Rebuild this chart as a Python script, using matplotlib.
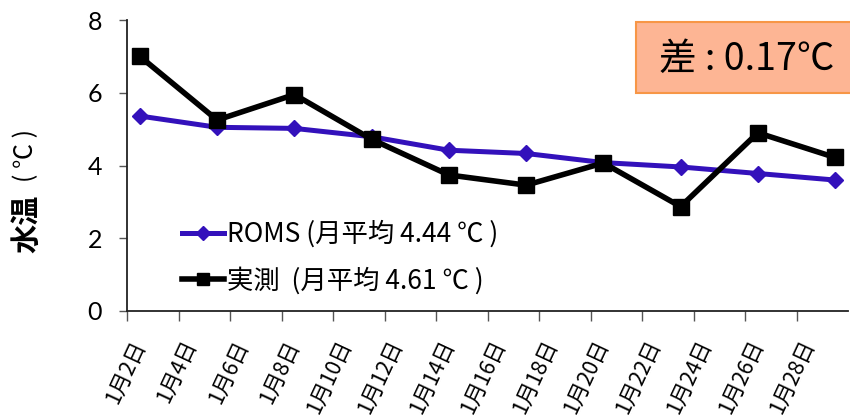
import matplotlib
matplotlib.use("Agg")
import matplotlib.pyplot as plt
from matplotlib.patches import Rectangle

plt.rcParams['font.family'] = ['Lato', 'Noto Sans CJK JP', 'DejaVu Sans']
JP = ['Noto Sans CJK JP', 'DejaVu Sans']

# Observation days in January and daily-mean water temperature (℃)
days = [2, 5, 8, 11, 14, 17, 20, 23, 26, 29]
roms_temp = [5.36, 5.05, 5.02, 4.79, 4.42, 4.33, 4.08, 3.96, 3.78, 3.60]
obs_temp = [7.00, 5.25, 5.95, 4.72, 3.74, 3.46, 4.07, 2.87, 4.90, 4.22]

label_days = [2, 4, 6, 8, 10, 12, 14, 16, 18, 20, 22, 24, 26, 28]
tick_labels = [f"1月{d}日" for d in label_days]
y_ticks = [0, 2, 4, 6, 8]

roms_label = "ROMS (月平均 4.44 ℃ )"
obs_label = "実測  (月平均 4.61 ℃ )"
diff_text = "差 : 0.17℃"

fig = plt.figure(figsize=(8.5, 4.16), dpi=100)
ax = fig.add_axes([127 / 850, 1 - 311 / 416, 721 / 850, 291 / 416])

ax.plot(days, roms_temp, color='#3311BB', lw=3.6, marker='D', ms=8.5,
        mec='#3311BB', mfc='#3311BB', label=roms_label, zorder=3)
ax.plot(days, obs_temp, color='black', lw=4.0, marker='s', ms=11,
        mec='black', mfc='black', label=obs_label, zorder=4)

# Each day occupies one slot; tick marks on slot boundaries every two days
ax.set_xlim(1.5, 29.5)
ax.set_ylim(0, 8)
ax.set_xticks([d - 0.5 for d in label_days])
ax.set_xticklabels([])
ax.tick_params(axis='x', which='major', direction='out', length=7, width=1.0,
               color='#555555')
ax.set_xticks(label_days, minor=True)
ax.set_xticklabels(tick_labels, minor=True, rotation=65, ha='right',
                   va='center', rotation_mode='anchor', fontsize=15.5,
                   family=JP)
ax.tick_params(axis='x', which='minor', length=0, pad=22)

ax.set_yticks(y_ticks)
ax.set_yticklabels([str(v) for v in y_ticks], fontsize=18)
ax.tick_params(axis='y', direction='out', length=6, width=1.0, color='#555555',
               pad=12)

for side in ('top', 'right'):
    ax.spines[side].set_visible(False)
ax.spines['left'].set_color('#222222')
ax.spines['bottom'].set_color('#222222')
ax.spines['left'].set_linewidth(1.3)
ax.spines['bottom'].set_linewidth(1.3)

leg = ax.legend(loc='lower left', bbox_to_anchor=(0.062, 0.02),
                frameon=False, prop={'family': JP, 'size': 19},
                handlelength=1.6, handletextpad=0.1, labelspacing=0.72,
                borderaxespad=0, markerscale=0.8)

# Y-axis title: bold 水温 followed by (℃)
fig.text(26 / 850, 1 - 224 / 416, "水温", rotation=90, fontsize=21,
         fontweight='bold', ha='center', va='center', family=JP)
fig.text(26 / 850, 1 - 155 / 416, "( ℃ )", rotation=90, fontsize=18,
         ha='center', va='center', family=JP)

# Difference box in the upper-right corner
box = Rectangle((636 / 850, 1 - 93 / 416), 220 / 850, 71 / 416,
                transform=fig.transFigure, facecolor='#FDB594',
                edgecolor='#F79646', lw=1.5, zorder=5)
fig.patches.append(box)
fig.text(747 / 850, 1 - 59 / 416, diff_text, fontsize=27, ha='center',
         va='center', zorder=6, family=JP)

fig.savefig("out.png", dpi=100)
